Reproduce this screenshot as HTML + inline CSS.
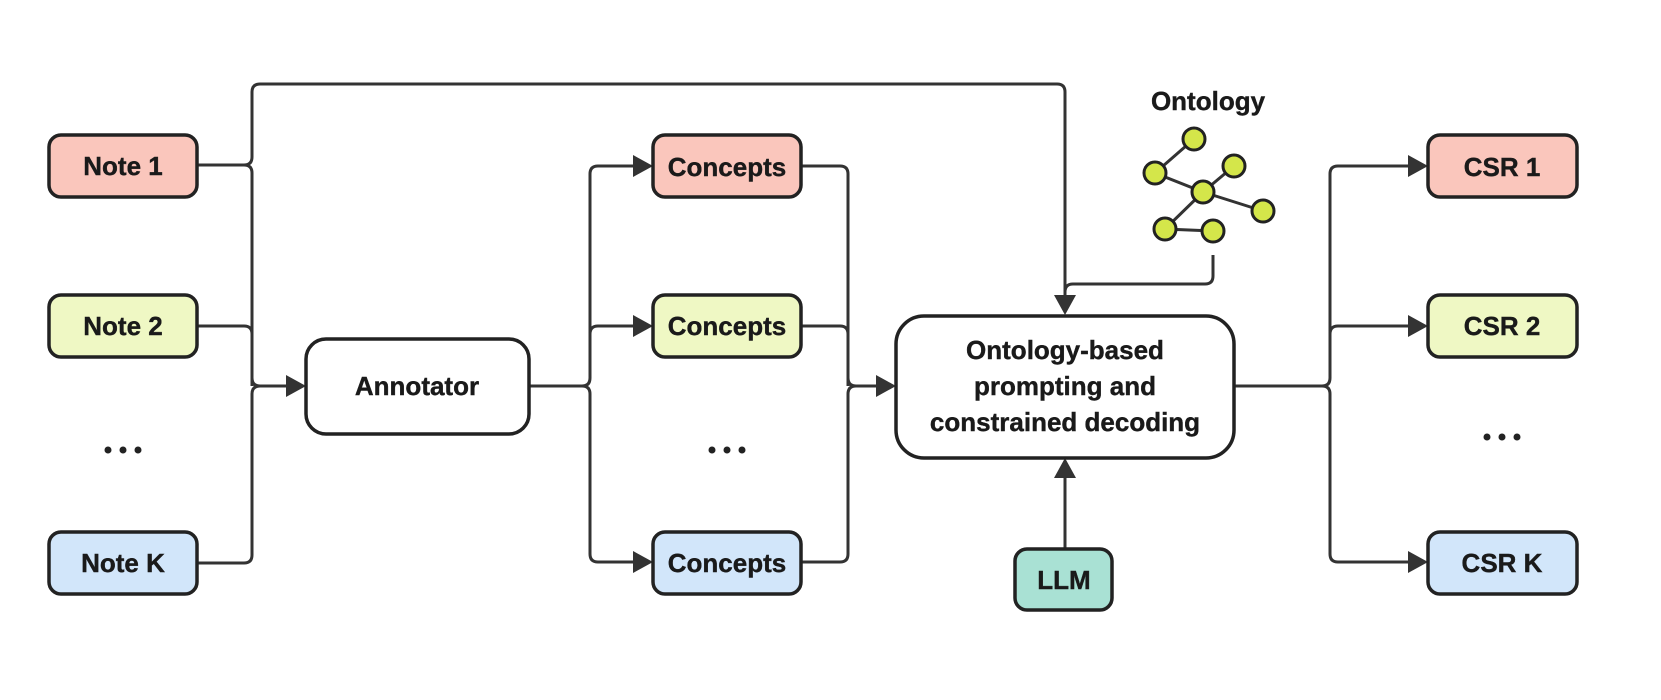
<!DOCTYPE html>
<html><head><meta charset="utf-8"><style>
html,body{margin:0;padding:0;background:#fff;}
svg{display:block;}
text{font-family:"Liberation Sans",sans-serif;font-weight:bold;fill:#1a1a1a;stroke:#1a1a1a;stroke-width:0.4;}
</style></head><body>
<svg width="1661" height="700" viewBox="0 0 1661 700" xmlns="http://www.w3.org/2000/svg">
<g fill="none" stroke="#333" stroke-width="3">
<path d="M197 165 H244 Q252 165 252 157 V92 Q252 84 260 84 H1057 Q1065 84 1065 92 V296"/>
<path d="M197 165 H244 Q252 165 252 173 V378 Q252 386 260 386 H288"/>
<path d="M197 326 H244 Q252 326 252 334 V386"/>
<path d="M197 563 H244 Q252 563 252 555 V394 Q252 386 260 386"/>
<path d="M529 386 H582 Q590 386 590 378 V174 Q590 166 598 166 H635"/>
<path d="M590 334 Q590 326 598 326 H635"/>
<path d="M582 386 Q590 386 590 394 V554 Q590 562 598 562 H635"/>
<path d="M801 166 H840 Q848 166 848 174 V378 Q848 386 856 386 H878"/>
<path d="M801 326 H840 Q848 326 848 334 V386"/>
<path d="M801 562 H840 Q848 562 848 554 V394 Q848 386 856 386"/>
<path d="M1213 255 V276 Q1213 284 1205 284 H1073 Q1065 284 1065 292"/>
<path d="M1065 549 V476"/>
<path d="M1234 386 H1322 Q1330 386 1330 378 V174 Q1330 166 1338 166 H1410"/>
<path d="M1330 334 Q1330 326 1338 326 H1410"/>
<path d="M1322 386 Q1330 386 1330 394 V554 Q1330 562 1338 562 H1410"/>
<path d="M1194 139 L1155 173 L1203 192 L1234 166 M1203 192 L1263 211 M1203 192 L1165 229 L1213 231"/>
</g>
<g fill="#333">
<polygon points="306,386 286,375 286,397"/>
<polygon points="653,166 633,155 633,177"/>
<polygon points="653,326 633,315 633,337"/>
<polygon points="653,562 633,551 633,573"/>
<polygon points="896,386 876,375 876,397"/>
<polygon points="1065,315 1054,295 1076,295"/>
<polygon points="1065,458 1054,478 1076,478"/>
<polygon points="1428,166 1408,155 1408,177"/>
<polygon points="1428,326 1408,315 1408,337"/>
<polygon points="1428,562 1408,551 1408,573"/>
</g>
<g fill="#d4e64a" stroke="#222" stroke-width="3">
<circle cx="1194" cy="139" r="11"/><circle cx="1155" cy="173" r="11"/><circle cx="1234" cy="166" r="11"/>
<circle cx="1203" cy="192" r="11"/><circle cx="1263" cy="211" r="11"/><circle cx="1165" cy="229" r="11"/><circle cx="1213" cy="231" r="11"/>
</g>
<g stroke="#222" stroke-width="3.5">
<rect x="49" y="135" width="148" height="62" rx="12" fill="#fac6bc"/>
<rect x="49" y="295" width="148" height="62" rx="12" fill="#eff8c4"/>
<rect x="49" y="532" width="148" height="62" rx="12" fill="#d2e6fa"/>
<rect x="306" y="339" width="223" height="95" rx="20" fill="#fff"/>
<rect x="653" y="135" width="148" height="62" rx="12" fill="#fac6bc"/>
<rect x="653" y="295" width="148" height="62" rx="12" fill="#eff8c4"/>
<rect x="653" y="532" width="148" height="62" rx="12" fill="#d2e6fa"/>
<rect x="896" y="316" width="338" height="142" rx="28" fill="#fff"/>
<rect x="1015" y="549" width="97" height="61" rx="12" fill="#a9e1d4"/>
<rect x="1428" y="135" width="149" height="62" rx="12" fill="#fac6bc"/>
<rect x="1428" y="295" width="149" height="62" rx="12" fill="#eff8c4"/>
<rect x="1428" y="532" width="149" height="62" rx="12" fill="#d2e6fa"/>
</g>
<g font-size="26" text-anchor="middle">
<text x="123" y="175">Note 1</text>
<text x="123" y="335">Note 2</text>
<text x="123" y="572">Note K</text>
<text x="417" y="395">Annotator</text>
<text x="727" y="176">Concepts</text>
<text x="727" y="335">Concepts</text>
<text x="727" y="572">Concepts</text>
<text x="1065" y="359">Ontology-based</text>
<text x="1065" y="395">prompting and</text>
<text x="1065" y="431">constrained decoding</text>
<text x="1064" y="589">LLM</text>
<text x="1502" y="176">CSR 1</text>
<text x="1502" y="335">CSR 2</text>
<text x="1502" y="572">CSR K</text>
<text x="1208" y="110">Ontology</text>
</g>
<g fill="#222">
<circle cx="108" cy="450" r="3.5"/><circle cx="123" cy="450" r="3.5"/><circle cx="138" cy="450" r="3.5"/>
<circle cx="712" cy="450" r="3.5"/><circle cx="727" cy="450" r="3.5"/><circle cx="742" cy="450" r="3.5"/>
<circle cx="1487" cy="437" r="3.5"/><circle cx="1502" cy="437" r="3.5"/><circle cx="1517" cy="437" r="3.5"/>
</g>
</svg>
</body></html>
